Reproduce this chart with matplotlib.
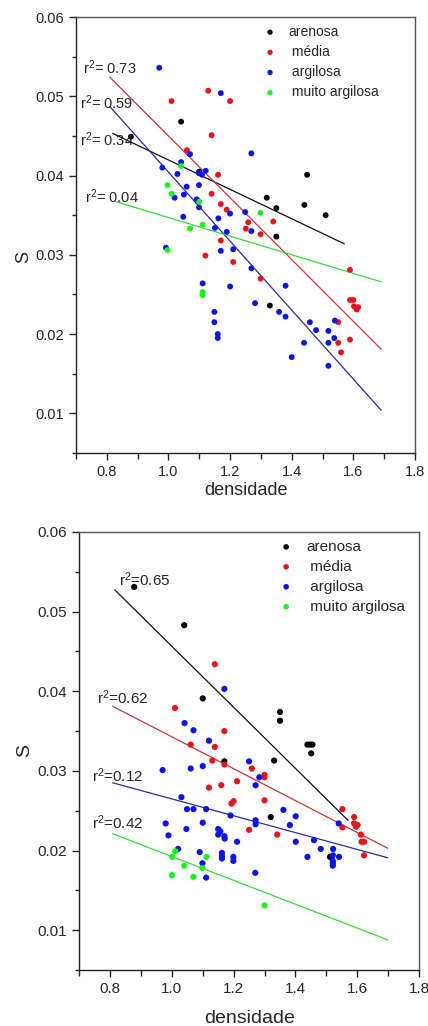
import matplotlib
matplotlib.use("Agg")
import matplotlib.pyplot as plt
from matplotlib.ticker import MultipleLocator, FormatStrFormatter

plt.rcParams['font.family'] = ['Liberation Sans', 'DejaVu Sans']
plt.rcParams['mathtext.fontset'] = 'custom'
plt.rcParams['mathtext.rm'] = 'Liberation Sans'
plt.rcParams['mathtext.it'] = 'Liberation Sans'

# ---------------- data: top panel ----------------
top_arenosa_x = [0.878, 1.041, 1.100, 1.319, 1.350, 1.441, 1.450, 1.510, 1.350, 1.329]
top_arenosa_y = [0.0449, 0.0468, 0.0405, 0.0372, 0.0359, 0.0363, 0.0401, 0.0350, 0.0323, 0.0236]

top_media_x = [1.010, 1.129, 1.200, 1.140, 1.060, 1.161, 1.140, 1.170, 1.189, 1.259, 1.340, 1.251,
               1.299, 1.170, 1.120, 1.210, 1.589, 1.299, 1.589, 1.600, 1.602, 1.611, 1.616, 1.551,
               1.551, 1.589, 1.560]
top_media_y = [0.0494, 0.0507, 0.0494, 0.0451, 0.0432, 0.0401, 0.0377, 0.0364, 0.0357, 0.0341, 0.0342, 0.0333,
               0.0326, 0.0318, 0.0299, 0.0291, 0.0281, 0.0270, 0.0243, 0.0243, 0.0235, 0.0231, 0.0234, 0.0215,
               0.0189, 0.0193, 0.0177]

top_argilosa_x = [0.970, 1.170, 1.070, 1.269, 1.041, 0.980, 1.121, 1.029, 1.099, 1.109, 1.059, 1.099,
                  1.020, 1.050, 1.092, 1.099, 1.200, 1.249, 1.048, 1.162, 1.269, 1.151, 1.189, 0.992,
                  1.170, 1.210, 1.269, 1.111, 1.380, 1.200, 1.281, 1.149, 1.359, 1.380, 1.149, 1.459,
                  1.540, 1.160, 1.160, 1.479, 1.519, 1.538, 1.440, 1.519, 1.400, 1.519]
top_argilosa_y = [0.0536, 0.0504, 0.0427, 0.0428, 0.0417, 0.0410, 0.0406, 0.0402, 0.0403, 0.0401, 0.0386, 0.0388,
                  0.0372, 0.0376, 0.0370, 0.0360, 0.0352, 0.0354, 0.0348, 0.0346, 0.0330, 0.0334, 0.0329, 0.0309,
                  0.0305, 0.0307, 0.0283, 0.0264, 0.0261, 0.0260, 0.0239, 0.0228, 0.0228, 0.0222, 0.0215, 0.0215,
                  0.0217, 0.0200, 0.0195, 0.0205, 0.0204, 0.0195, 0.0189, 0.0189, 0.0171, 0.0160]

top_muito_x = [1.041, 0.997, 1.010, 1.100, 1.299, 1.111, 1.070, 0.997, 1.111, 1.111]
top_muito_y = [0.0412, 0.0388, 0.0377, 0.0367, 0.0353, 0.0338, 0.0333, 0.0306, 0.0253, 0.0249]

# fitted lines (start/end)
top_fit_arenosa = ([0.82, 1.57], [0.0453, 0.0314])
top_fit_media = ([0.81, 1.69], [0.0524, 0.0181])
top_fit_argilosa = ([0.81, 1.69], [0.0487, 0.0104])
top_fit_muito = ([0.83, 1.69], [0.0367, 0.0266])

top_r2_labels = ["0.73", "0.59", "0.34", "0.04"]

# ---------------- data: bottom panel ----------------
bot_arenosa_x = [0.878, 1.040, 1.100, 1.350, 1.350, 1.439, 1.448, 1.455, 1.451, 1.170, 1.331, 1.320, 1.512]
bot_arenosa_y = [0.0531, 0.0483, 0.0391, 0.0374, 0.0363, 0.0333, 0.0333, 0.0333, 0.0322, 0.0312, 0.0313, 0.0242, 0.0192]

bot_media_x = [1.139, 1.010, 1.170, 1.061, 1.139, 1.131, 1.170, 1.259, 1.300, 1.300, 1.120, 1.160,
               1.211, 1.300, 1.193, 1.200, 1.552, 1.590, 1.590, 1.601, 1.596, 1.552, 1.612, 1.250,
               1.341, 1.614, 1.623, 1.622]
bot_media_y = [0.0434, 0.0379, 0.0350, 0.0333, 0.0330, 0.0313, 0.0308, 0.0303, 0.0295, 0.0292, 0.0279, 0.0282,
               0.0287, 0.0263, 0.0259, 0.0262, 0.0252, 0.0242, 0.0234, 0.0232, 0.0230, 0.0229, 0.0220, 0.0226,
               0.0220, 0.0211, 0.0211, 0.0194]

bot_argilosa_x = [1.170, 1.041, 1.070, 1.120, 1.250, 0.970, 1.061, 1.100, 1.283, 1.271, 1.031, 1.049,
                  1.070, 1.111, 1.361, 1.190, 1.401, 1.271, 1.271, 0.980, 1.100, 1.382, 1.540, 1.047,
                  1.150, 1.157, 1.150, 0.989, 1.170, 1.171, 1.211, 1.401, 1.460, 1.482, 1.522, 1.521,
                  1.521, 1.521, 1.521, 1.541, 1.439, 1.162, 1.162, 1.162, 1.199, 1.199, 1.090, 1.020,
                  1.099, 1.111, 1.270]
bot_argilosa_y = [0.0403, 0.0360, 0.0351, 0.0338, 0.0312, 0.0301, 0.0303, 0.0306, 0.0292, 0.0282, 0.0267, 0.0252,
                  0.0252, 0.0252, 0.0251, 0.0244, 0.0243, 0.0238, 0.0233, 0.0234, 0.0235, 0.0232, 0.0234, 0.0227,
                  0.0227, 0.0224, 0.0220, 0.0219, 0.0218, 0.0215, 0.0211, 0.0211, 0.0213, 0.0202, 0.0202, 0.0194,
                  0.0187, 0.0184, 0.0181, 0.0192, 0.0192, 0.0197, 0.0193, 0.0190, 0.0192, 0.0187, 0.0198, 0.0202,
                  0.0184, 0.0166, 0.0172]

bot_muito_x = [1.011, 1.001, 1.112, 1.040, 1.099, 1.000, 1.070, 1.300]
bot_muito_y = [0.0199, 0.0192, 0.0192, 0.0181, 0.0178, 0.0169, 0.0167, 0.0131]

bot_fit_arenosa = ([0.816, 1.570], [0.0527, 0.0238])
bot_fit_media = ([0.809, 1.698], [0.0381, 0.0203])
bot_fit_argilosa = ([0.809, 1.698], [0.0285, 0.0191])
bot_fit_muito = ([0.809, 1.698], [0.0221, 0.0088])

bot_r2_labels = ["0.65", "0.62", "0.12", "0.42"]

categories = ["arenosa", " média", " argilosa", " muito argilosa"]
x_ticks = [0.8, 1.0, 1.2, 1.4, 1.6, 1.8]
y_ticks = [0.01, 0.02, 0.03, 0.04, 0.05, 0.06]

# ---------------- styling ----------------
pt_colors = ["#000000", "#e8141c", "#0a14e6", "#1ef01e"]
line_colors = ["#111111", "#c0393b", "#2b2b9c", "#3ad83a"]
text_color = "#262626"

fig = plt.figure(figsize=(4.28, 10.26), dpi=100)
ax_top = fig.add_axes([0.1776, 0.5585, 0.7920, 0.4249])
ax_bot = fig.add_axes([0.1850, 0.0546, 0.7940, 0.4269])


def style_axes(ax, tick_fs, label_fs, ylab_pos, xlab_pos):
    ax.set_xlim(0.7, 1.8)
    ax.set_ylim(0.005, 0.06)
    ax.set_xticks(x_ticks)
    ax.set_yticks(y_ticks)
    ax.xaxis.set_minor_locator(MultipleLocator(0.1))
    ax.yaxis.set_minor_locator(MultipleLocator(0.005))
    ax.xaxis.set_major_formatter(FormatStrFormatter('%.1f'))
    ax.yaxis.set_major_formatter(FormatStrFormatter('%.2f'))
    ax.tick_params(which='both', direction='out', top=False, right=False,
                   colors='#222222', labelcolor=text_color, width=1.0)
    ax.tick_params(which='major', length=5, labelsize=tick_fs, pad=4)
    ax.tick_params(axis='x', which='minor', length=4)
    ax.tick_params(axis='y', which='minor', length=3)
    for side in ['left', 'bottom']:
        ax.spines[side].set_color('#222222')
        ax.spines[side].set_linewidth(1.0)
    for side in ['top', 'right']:
        ax.spines[side].set_color('#555555')
        ax.spines[side].set_linewidth(1.0)
    ax.set_xlabel("densidade", fontsize=label_fs, color=text_color)
    ax.set_ylabel("S", fontsize=label_fs, color=text_color)
    ax.yaxis.set_label_coords(*ylab_pos)
    ax.xaxis.set_label_coords(*xlab_pos)
    ax.xaxis.label.set_va('center')
    ax.yaxis.label.set_va('center')


def draw_panel(ax, xs, ys, fits, r2_labels, r2_pos, r2_fs, leg_fs, leg_anchor, leg_spacing, ms):
    handles = []
    for i in range(4):
        h = ax.scatter(xs[i], ys[i], s=ms, color=pt_colors[i], edgecolors='none',
                       zorder=3, label=categories[i])
        handles.append(h)
    for i in range(4):
        fx, fy = fits[i]
        ax.plot(fx, fy, color=line_colors[i], lw=0.9, zorder=2)
    for lab, (tx, ty) in zip(r2_labels, r2_pos):
        ax.text(tx, ty, "r$^2$= " + lab if r2_fs[1] else "r$^2$=" + lab,
                fontsize=r2_fs[0], color=text_color, ha='left', va='center', zorder=4)
    leg = ax.legend(handles=handles, loc='upper left', bbox_to_anchor=leg_anchor,
                    frameon=False, fontsize=leg_fs, handlelength=0.8, handletextpad=0.9,
                    labelspacing=leg_spacing, borderpad=0, borderaxespad=0, markerscale=0.9)
    for t in leg.get_texts():
        t.set_color(text_color)


top_xs = [top_arenosa_x, top_media_x, top_argilosa_x, top_muito_x]
top_ys = [top_arenosa_y, top_media_y, top_argilosa_y, top_muito_y]
top_fits = [top_fit_arenosa, top_fit_media, top_fit_argilosa, top_fit_muito]
top_r2_pos = [(0.722, 0.0536), (0.713, 0.0492), (0.713, 0.0445), (0.730, 0.0373)]

bot_xs = [bot_arenosa_x, bot_media_x, bot_argilosa_x, bot_muito_x]
bot_ys = [bot_arenosa_y, bot_media_y, bot_argilosa_y, bot_muito_y]
bot_fits = [bot_fit_arenosa, bot_fit_media, bot_fit_argilosa, bot_fit_muito]
bot_r2_pos = [(0.830, 0.0540), (0.757, 0.0392), (0.742, 0.0294), (0.742, 0.0235)]

style_axes(ax_top, 10.5, 13, (-0.155, 0.45), (0.5, -0.087))
draw_panel(ax_top, top_xs, top_ys, top_fits, top_r2_labels, top_r2_pos, (10.5, True),
           10, (0.556, 0.982), 0.44, 18)

style_axes(ax_bot, 11.0, 14, (-0.16, 0.5), (0.5, -0.110))
draw_panel(ax_bot, bot_xs, bot_ys, bot_fits, bot_r2_labels, bot_r2_pos, (11, False),
           11, (0.591, 0.982), 0.39, 20)

fig.savefig("out.png", dpi=100, facecolor='white')
